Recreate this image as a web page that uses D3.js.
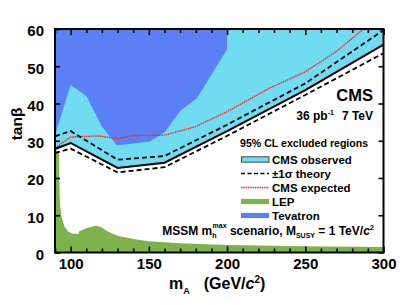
<!DOCTYPE html>
<html>
<head>
<meta charset="utf-8">
<script src="https://cdn.jsdelivr.net/npm/d3@7"></script>
<style>
body { margin: 0; background: #fff; }
text { font-family: "Liberation Sans", Arial, sans-serif; font-weight: bold; fill: #000; }
</style>
</head>
<body>
<svg width="415" height="305"></svg>
<script>
// data: [mA, tanBeta]
var massTicks = [100, 150, 200, 250, 300];
var tanbTicks = [0, 10, 20, 30, 40, 50, 60];

var observed = [[90, 27.8], [100, 29.4], [130, 22.7], [160, 24.1], [200, 32.6], [250, 43.6], [300, 55.8]];
var theoryUp = [[90, 31.2], [100, 32.6], [130, 24.9], [160, 25.9], [200, 34.3], [250, 45.4], [300, 59.7]];
var theoryDown = [[90, 26.7], [100, 27.9], [130, 21.5], [160, 22.9], [200, 31.3], [250, 42.3], [300, 53.5]];
var expected = [[90, 28], [100, 31], [118, 31.3], [130, 30.5], [140, 31.4], [160, 31.5], [180, 33.8],
                [200, 37.8], [227, 44.1], [250, 48.5], [270, 54], [290, 61]];
var lep = [[90, 0], [90, 27.5], [92.5, 27], [92.7, 20], [93.2, 13], [94.2, 9.5], [96, 7], [98.5, 5.6],
           [101, 5.1], [105, 5.0], [105.5, 5.7], [110, 6.5], [116, 7.2], [119, 6.9], [124, 5.6],
           [130, 4.5], [140, 3.6], [150, 3.0], [170, 2.5], [200, 2.0], [250, 1.7], [300, 1.5], [300, 0]];
var tevatron = [[90, 60], [90, 31.5], [100, 45], [110, 42], [120, 33.8], [129.5, 28.7], [150.8, 29.8],
                [160.4, 32.4], [170, 38], [180.7, 41.4], [200, 54.5], [200, 60]];

var legendItems = ["CMS observed", "\u00b11\u03c3 theory", "CMS expected", "LEP", "Tevatron"];

var cyan = "#70dcf1", blue = "#5b80f6", green = "#7eb24b", red = "#f0302a";

var svg = d3.select("svg");
var x = d3.scaleLinear().domain([90, 300]).range([55, 383.5]),
    y = d3.scaleLinear().domain([0, 60]).range([252.5, 29]);

svg.append("defs").append("clipPath").attr("id", "clip")
    .append("rect")
    .attr("x", x(90)).attr("y", y(60))
    .attr("width", x(300) - x(90)).attr("height", y(0) - y(60));

var plot = svg.append("g").attr("clip-path", "url(#clip)");

var line = d3.line()
    .x(function(d) { return x(d[0]); })
    .y(function(d) { return y(d[1]); });

// observed exclusion: from the observed curve up to the top
var obsArea = observed.concat([[300, 60], [90, 60]]);
plot.append("path").attr("d", line(obsArea) + "Z").attr("fill", cyan);
plot.append("path").attr("d", line(tevatron) + "Z").attr("fill", blue);
plot.append("path").attr("d", line(lep) + "Z").attr("fill", green);

plot.append("path").attr("d", line(expected))
    .attr("fill", "none").attr("stroke", red).attr("stroke-width", 1.4)
    .attr("stroke-dasharray", "1.6,0.7");
[theoryUp, theoryDown].forEach(function(s) {
    plot.append("path").attr("d", line(s))
        .attr("fill", "none").attr("stroke", "#000").attr("stroke-width", 1.8)
        .attr("stroke-dasharray", "5,3");
});
plot.append("path").attr("d", line(observed))
    .attr("fill", "none").attr("stroke", "#000").attr("stroke-width", 2);

// axes with inward ticks
var minor = d3.range(90, 301, 10).filter(function(v) { return massTicks.indexOf(v) < 0; });

function styleAxis(g) {
    g.select(".domain").remove();
    g.selectAll(".tick line").attr("stroke", "#000").attr("stroke-width", 1.6);
}

svg.append("g").attr("transform", "translate(0," + y(0) + ")")
    .call(d3.axisBottom(x).tickValues(minor).tickSize(-4).tickFormat(""))
    .call(styleAxis);
svg.append("g").attr("transform", "translate(0," + y(0) + ")")
    .call(d3.axisBottom(x).tickValues(massTicks).tickSize(-6).tickPadding(10))
    .call(styleAxis)
    .selectAll("text").attr("font-size", 15).attr("fill", "#000").attr("dy", "0.71em").attr("y", 6);
svg.append("g").attr("transform", "translate(0," + y(60) + ")")
    .call(d3.axisTop(x).tickValues(minor).tickSize(-4).tickFormat(""))
    .call(styleAxis);
svg.append("g").attr("transform", "translate(0," + y(60) + ")")
    .call(d3.axisTop(x).tickValues(massTicks).tickSize(-6).tickFormat(""))
    .call(styleAxis);
svg.append("g").attr("transform", "translate(" + x(90) + ",0)")
    .call(d3.axisLeft(y).tickValues(tanbTicks).tickSize(-5).tickPadding(11))
    .call(styleAxis)
    .selectAll("text").attr("font-size", 15).attr("fill", "#000").attr("dy", "0.45em");
svg.append("g").attr("transform", "translate(" + x(300) + ",0)")
    .call(d3.axisRight(y).tickValues(tanbTicks).tickSize(-5).tickFormat(""))
    .call(styleAxis);

svg.append("rect")
    .attr("x", x(90)).attr("y", y(60))
    .attr("width", x(300) - x(90)).attr("height", y(0) - y(60))
    .attr("fill", "none").attr("stroke", "#000").attr("stroke-width", 2);

// axis titles
svg.append("text")
    .attr("transform", "translate(22,124) rotate(-90)")
    .attr("text-anchor", "middle").attr("font-size", 15.5)
    .text("tan\u03b2");

var xt = svg.append("text").attr("x", 169).attr("y", 289).attr("font-size", 16);
xt.append("tspan").text("m");
xt.append("tspan").attr("font-size", 9).attr("dy", 5).text("A");
xt.append("tspan").attr("dy", -5).attr("dx", 14).text("(GeV/");
xt.append("tspan").attr("font-style", "italic").text("c");
xt.append("tspan").attr("font-size", 10).attr("dy", -6).text("2");
xt.append("tspan").attr("dy", 6).text(")");

// CMS label
svg.append("text").attr("x", 373).attr("y", 101).attr("text-anchor", "end")
    .attr("font-size", 16.5).text("CMS");
var lumi = svg.append("text").attr("x", 373).attr("y", 120).attr("text-anchor", "end").attr("font-size", 12);
lumi.append("tspan").text("36 pb");
lumi.append("tspan").attr("font-size", 7).attr("dy", -5).text("-1");
lumi.append("tspan").attr("dy", 5).attr("dx", 8).text("7 TeV");

// legend
svg.append("text").attr("x", 240).attr("y", 147).attr("font-size", 10.6)
    .text("95% CL excluded regions");

var leg = svg.append("g").selectAll("g").data(legendItems).enter().append("g")
    .attr("transform", function(d, i) { return "translate(241," + (159.5 + i * 14) + ")"; });
leg.append("text").attr("x", 31).attr("dy", "0.36em").attr("font-size", 11.5)
    .text(function(d) { return d; });
leg.each(function(d, i) {
    var g = d3.select(this);
    if (i === 0) {
        g.append("rect").attr("x", 0.5).attr("y", -2.7).attr("width", 27.5).attr("height", 5.4)
            .attr("fill", cyan).attr("stroke", "#444").attr("stroke-width", 1);
    } else if (i === 1) {
        g.append("line").attr("x1", 0).attr("x2", 28).attr("stroke", "#000")
            .attr("stroke-width", 1.6).attr("stroke-dasharray", "4,2.5");
    } else if (i === 2) {
        g.append("line").attr("x1", 0).attr("x2", 28).attr("stroke", red)
            .attr("stroke-width", 1.3).attr("stroke-dasharray", "1.6,0.7");
    } else {
        g.append("rect").attr("x", 0).attr("y", -2.6).attr("width", 28).attr("height", 5.2)
            .attr("fill", i === 3 ? green : blue);
    }
});

// scenario text
var sc = svg.append("text").attr("x", 374).attr("y", 235).attr("text-anchor", "end").attr("font-size", 12);
sc.append("tspan").text("MSSM m");
sc.append("tspan").attr("font-size", 7).attr("dy", 3).text("h");
sc.append("tspan").attr("font-size", 7).attr("dy", -10).attr("dx", -3.9).text("max");
sc.append("tspan").attr("dy", 7).text(" scenario, M");
sc.append("tspan").attr("font-size", 7).attr("dy", 3).text("SUSY");
sc.append("tspan").attr("dy", -3).text(" = 1 TeV/");
sc.append("tspan").attr("font-style", "italic").text("c");
sc.append("tspan").attr("font-size", 7.5).attr("dy", -5).text("2");
</script>
</body>
</html>
